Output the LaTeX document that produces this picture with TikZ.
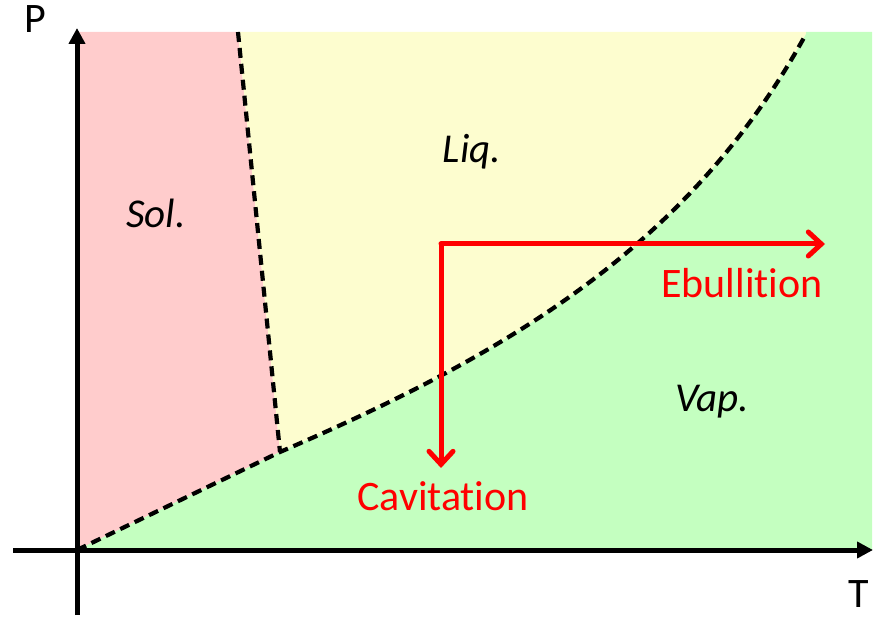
\documentclass[tikz,border=0pt]{standalone}
\usepackage{fontspec}
\setmainfont{Carlito}[Ligatures=NoCommon]
\usepackage{tikz}
\usetikzlibrary{arrows.meta, positioning}
\definecolor{solcol}{HTML}{FFCCCC}
\definecolor{liqcol}{HTML}{FDFDCF}
\definecolor{vapcol}{HTML}{C4FFC0}
\definecolor{redarrow}{HTML}{FF0000}

\begin{document}
\begin{tikzpicture}[x=1pt, y=-1pt,
    axis/.style={line width=5pt, -{Triangle[length=16pt, width=16pt]}},
    border/.style={line width=4.2pt, dash pattern=on 10pt off 6pt},
    path/.style={line width=5pt, redarrow, line cap=round, line join=miter,
        -{Straight Barb[length=13pt, width=24pt, line cap=round]}},
    phase/.style={font=\fontsize{41}{48}\selectfont\itshape},
    pathlbl/.style={font=\fontsize{42}{50}\selectfont, text=redarrow},
    axlbl/.style={font=\fontsize{42}{50}\selectfont}]
    \useasboundingbox (0,0) rectangle (876,617);

    % Points de repere
    \coordinate (O) at (77,550);
    \coordinate (triple) at (280,452);
    \coordinate (fusTop) at (238,32);
    \coordinate (vapTop) at (806,34);
    \coordinate (corner) at (441,244);

    % Zones des phases
    \fill[solcol] (77,32) -- (fusTop) -- (triple) -- (O) -- cycle;
    \fill[liqcol] (fusTop) -- (806,32) -- (vapTop) .. controls (688,250) and (500,357) .. (triple) -- cycle;
    \fill[vapcol] (O) -- (triple) .. controls (500,357) and (688,250) .. (vapTop) -- (806,32) -- (872,32) -- (872,550) -- cycle;

    % Courbes d'equilibre
    \draw[border] (fusTop) -- (triple);
    \draw[border] (O) -- (triple) .. controls (500,357) and (688,250) .. (vapTop);

    % Axes
    \coordinate (xStart) at (13,550);
    \coordinate (xEnd) at (873,550);
    \coordinate (yStart) at (77,615);
    \coordinate (yEnd) at (77,28);
    \draw[axis] (xStart) -- (xEnd);
    \draw[axis] (yStart) -- (yEnd);
    \node[axlbl] (P) at (35,19) {P};
    \node[axlbl] (T) at (859,594) {T};

    % Noms des phases
    \node[phase] (sol) at (156,213) {Sol.};
    \node[phase] (liq) at (472,152) {Liq.};
    \node[phase] (vap) at (712,402) {Vap.};

    % Chemins rouges
    \coordinate (cav) at (441,468);
    \coordinate (ebu) at (825,244);
    \draw[path] (corner) -- (ebu);
    \draw[path] (corner) -- (cav);
    \node[pathlbl] (ebuLbl) at (742,283) {Ebullition};
    \node[pathlbl] (cavLbl) at (443,496) {Cavitation};

\end{tikzpicture}
\end{document}
